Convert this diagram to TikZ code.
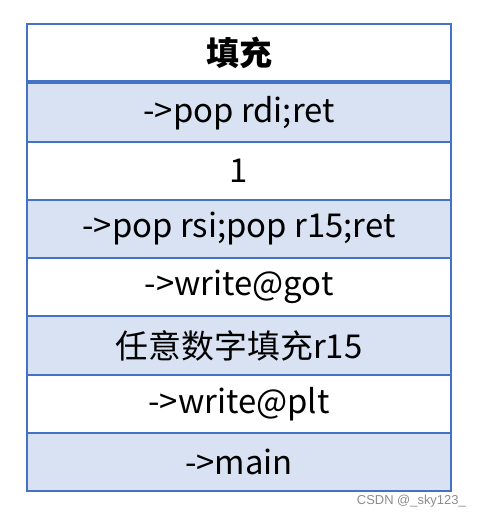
\documentclass[tikz,border=0pt]{standalone}
\usepackage{fontspec}
\setmainfont{Noto Sans CJK SC}
\newfontfamily\wmfont{Liberation Sans}
\definecolor{bordc}{HTML}{4472C4}
\definecolor{fillc}{HTML}{D9E2F3}
\begin{document}
\begin{tikzpicture}[x=1bp,y=-1bp,
  cell/.style={anchor=center,font=\fontsize{33}{38}\selectfont,inner sep=0pt}]
\useasboundingbox (0,0) rectangle (480,518);
% shaded rows
\fill[fillc] (27,82) rectangle (451,142);
\fill[fillc] (27,200) rectangle (451,258);
\fill[fillc] (27,316) rectangle (451,375);
\fill[fillc] (27,433) rectangle (451,491);
% row lines
\foreach \yy in {142,200,258,316,375,433}
  \draw[bordc,line width=1.5bp] (27,\yy) -- (451,\yy);
\draw[bordc,line width=3.5bp] (27,82) -- (451,82);
\draw[bordc,line width=1.8bp] (27,24) rectangle (451,491);
% texts
\node[cell,font=\fontsize{33}{38}\selectfont\bfseries] (h) at (239,53) {填充};
\node[cell] (r1) at (239,113) {->pop rdi;ret};
\node[cell] (r2) at (239,171) {1};
\node[cell] (r3) at (239,229) {->pop rsi;pop r15;ret};
\node[cell] (r4) at (239,287) {->write@got};
\node[cell] (r5) at (239,346) {任意数字填充r15};
\node[cell] (r6) at (239,404) {->write@plt};
\node[cell] (r7) at (239,462) {->main};
\node[anchor=east,text=black!45,font=\wmfont\fontsize{13}{15}\selectfont,inner sep=0pt] (wm) at (466,501) {CSDN @\_sky123\_};
\end{tikzpicture}
\end{document}
